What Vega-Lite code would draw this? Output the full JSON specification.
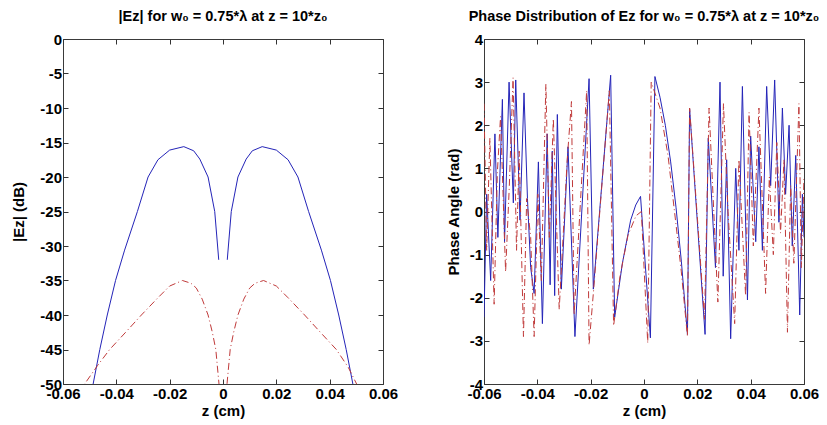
{
  "$schema": "https://vega.github.io/schema/vega-lite/v6.json",
  "background": "white",
  "padding": {"left": 11, "top": 8, "right": 2, "bottom": 2},
  "spacing": 47,
  "datasets": {
    "mag": [
      {"s":"a","g":1,"z":-0.0505,"v":-53},{"s":"a","g":1,"z":-0.0487,"v":-50},{"s":"a","g":1,"z":-0.0462,"v":-45},{"s":"a","g":1,"z":-0.0434,"v":-40},{"s":"a","g":1,"z":-0.0403,"v":-35},{"s":"a","g":1,"z":-0.0369,"v":-30.6},{"s":"a","g":1,"z":-0.0321,"v":-25},{"s":"a","g":1,"z":-0.0281,"v":-20},{"s":"a","g":1,"z":-0.0244,"v":-17.5},{"s":"a","g":1,"z":-0.02,"v":-16.1},{"s":"a","g":1,"z":-0.0147,"v":-15.6},{"s":"a","g":1,"z":-0.011,"v":-16.2},{"s":"a","g":1,"z":-0.0087,"v":-17.4},{"s":"a","g":1,"z":-0.0056,"v":-20},{"s":"a","g":1,"z":-0.0031,"v":-25},{"s":"a","g":1,"z":-0.0016,"v":-32},
      {"s":"a","g":2,"z":0.0016,"v":-32},{"s":"a","g":2,"z":0.0031,"v":-25},{"s":"a","g":2,"z":0.0056,"v":-20},{"s":"a","g":2,"z":0.0087,"v":-17.4},{"s":"a","g":2,"z":0.011,"v":-16.2},{"s":"a","g":2,"z":0.0147,"v":-15.6},{"s":"a","g":2,"z":0.02,"v":-16.1},{"s":"a","g":2,"z":0.0244,"v":-17.5},{"s":"a","g":2,"z":0.0281,"v":-20},{"s":"a","g":2,"z":0.0321,"v":-25},{"s":"a","g":2,"z":0.0369,"v":-30.6},{"s":"a","g":2,"z":0.0403,"v":-35},{"s":"a","g":2,"z":0.0434,"v":-40},{"s":"a","g":2,"z":0.0462,"v":-45},{"s":"a","g":2,"z":0.0487,"v":-50},{"s":"a","g":2,"z":0.0505,"v":-53},
      {"s":"b","g":3,"z":-0.053,"v":-51.5},{"s":"b","g":3,"z":-0.0519,"v":-50},{"s":"b","g":3,"z":-0.047,"v":-47.3},{"s":"b","g":3,"z":-0.0425,"v":-45},{"s":"b","g":3,"z":-0.0365,"v":-42.5},{"s":"b","g":3,"z":-0.0306,"v":-40},{"s":"b","g":3,"z":-0.0244,"v":-37.5},{"s":"b","g":3,"z":-0.02,"v":-35.8},{"s":"b","g":3,"z":-0.0152,"v":-35},{"s":"b","g":3,"z":-0.012,"v":-35.4},{"s":"b","g":3,"z":-0.01,"v":-36.1},{"s":"b","g":3,"z":-0.0078,"v":-37.7},{"s":"b","g":3,"z":-0.0056,"v":-40},{"s":"b","g":3,"z":-0.004,"v":-42.5},{"s":"b","g":3,"z":-0.0027,"v":-45},{"s":"b","g":3,"z":-0.0015,"v":-50},{"s":"b","g":3,"z":-0.0012,"v":-52},
      {"s":"b","g":4,"z":0.0012,"v":-52},{"s":"b","g":4,"z":0.0015,"v":-50},{"s":"b","g":4,"z":0.0027,"v":-45},{"s":"b","g":4,"z":0.004,"v":-42.5},{"s":"b","g":4,"z":0.0056,"v":-40},{"s":"b","g":4,"z":0.0078,"v":-37.7},{"s":"b","g":4,"z":0.01,"v":-36.1},{"s":"b","g":4,"z":0.012,"v":-35.4},{"s":"b","g":4,"z":0.0152,"v":-35},{"s":"b","g":4,"z":0.02,"v":-35.8},{"s":"b","g":4,"z":0.0244,"v":-37.5},{"s":"b","g":4,"z":0.0306,"v":-40},{"s":"b","g":4,"z":0.0365,"v":-42.5},{"s":"b","g":4,"z":0.0425,"v":-45},{"s":"b","g":4,"z":0.047,"v":-47.6},{"s":"b","g":4,"z":0.0505,"v":-50.3},{"s":"b","g":4,"z":0.052,"v":-51.5}
    ],
    "phase": [
      {"s":"a","z":-0.06,"v":-2.45},{"s":"a","z":-0.059,"v":0.4},{"s":"a","z":-0.0575,"v":-1.6},{"s":"a","z":-0.0559,"v":1.8},{"s":"a","z":-0.0548,"v":-0.6},{"s":"a","z":-0.0531,"v":2.6},{"s":"a","z":-0.0523,"v":-0.7},{"s":"a","z":-0.0506,"v":3.0},{"s":"a","z":-0.049,"v":0.2},{"s":"a","z":-0.0481,"v":3.05},{"s":"a","z":-0.0465,"v":-0.2},{"s":"a","z":-0.045,"v":2.75},{"s":"a","z":-0.0437,"v":0.3},{"s":"a","z":-0.0425,"v":-1.3},{"s":"a","z":-0.0412,"v":-1.9},{"s":"a","z":-0.0396,"v":1.15},{"s":"a","z":-0.0381,"v":-2.6},{"s":"a","z":-0.0363,"v":1.8},{"s":"a","z":-0.0352,"v":-1.7},{"s":"a","z":-0.0344,"v":1.4},{"s":"a","z":-0.0335,"v":-1.95},{"s":"a","z":-0.0325,"v":2.25},{"s":"a","z":-0.031,"v":-1.8},{"s":"a","z":-0.0285,"v":1.5},{"s":"a","z":-0.0259,"v":-2.9},{"s":"a","z":-0.0206,"v":3.08},{"s":"a","z":-0.019,"v":-1.8},{"s":"a","z":-0.0125,"v":3.16},{"s":"a","z":-0.011,"v":-2.45},{"s":"a","z":-0.0081,"v":-1.2},{"s":"a","z":-0.005,"v":-0.2},{"s":"a","z":-0.0031,"v":0.15},{"s":"a","z":-0.0013,"v":0.35},{"s":"a","z":0.0024,"v":-2.93},{"s":"a","z":0.0041,"v":3.13},{"s":"a","z":0.006,"v":2.65},{"s":"a","z":0.008,"v":2.0},{"s":"a","z":0.01,"v":1.15},{"s":"a","z":0.012,"v":0.1},{"s":"a","z":0.014,"v":-1.15},{"s":"a","z":0.0163,"v":-2.85},{"s":"a","z":0.0171,"v":2.38},{"s":"a","z":0.0229,"v":-2.85},{"s":"a","z":0.0241,"v":1.7},{"s":"a","z":0.0268,"v":-1.3},{"s":"a","z":0.0285,"v":3.0},{"s":"a","z":0.0297,"v":-1.5},{"s":"a","z":0.031,"v":1.2},{"s":"a","z":0.0325,"v":-2.95},{"s":"a","z":0.0344,"v":1.0},{"s":"a","z":0.0356,"v":-0.9},{"s":"a","z":0.0369,"v":2.9},{"s":"a","z":0.0388,"v":-2.05},{"s":"a","z":0.04,"v":1.75},{"s":"a","z":0.0419,"v":-0.7},{"s":"a","z":0.0431,"v":1.5},{"s":"a","z":0.0444,"v":-0.9},{"s":"a","z":0.046,"v":2.9},{"s":"a","z":0.0475,"v":0.6},{"s":"a","z":0.049,"v":3.05},{"s":"a","z":0.0506,"v":-0.25},{"s":"a","z":0.0519,"v":2.4},{"s":"a","z":0.0531,"v":0.4},{"s":"a","z":0.0544,"v":2.0},{"s":"a","z":0.0556,"v":-0.8},{"s":"a","z":0.0569,"v":1.3},{"s":"a","z":0.0584,"v":-2.4},{"s":"a","z":0.0594,"v":0.4},{"s":"a","z":0.06,"v":-0.6},
      {"s":"b","z":-0.06,"v":2.5},{"s":"b","z":-0.059,"v":-0.9},{"s":"b","z":-0.0578,"v":1.7},{"s":"b","z":-0.0562,"v":-2.15},{"s":"b","z":-0.055,"v":0.9},{"s":"b","z":-0.0538,"v":2.2},{"s":"b","z":-0.0519,"v":-1.4},{"s":"b","z":-0.0505,"v":0.6},{"s":"b","z":-0.0491,"v":3.1},{"s":"b","z":-0.0478,"v":-0.9},{"s":"b","z":-0.0468,"v":1.4},{"s":"b","z":-0.0452,"v":-2.9},{"s":"b","z":-0.044,"v":0.3},{"s":"b","z":-0.0425,"v":-0.6},{"s":"b","z":-0.0412,"v":-2.9},{"s":"b","z":-0.0398,"v":0.4},{"s":"b","z":-0.0385,"v":-1.6},{"s":"b","z":-0.0368,"v":2.95},{"s":"b","z":-0.0355,"v":-0.6},{"s":"b","z":-0.034,"v":2.15},{"s":"b","z":-0.0318,"v":-2.27},{"s":"b","z":-0.03,"v":-0.2},{"s":"b","z":-0.0288,"v":1.2},{"s":"b","z":-0.0272,"v":2.55},{"s":"b","z":-0.0262,"v":-2.4},{"s":"b","z":-0.0215,"v":2.8},{"s":"b","z":-0.0206,"v":-3.1},{"s":"b","z":-0.019,"v":-1.9},{"s":"b","z":-0.013,"v":2.8},{"s":"b","z":-0.0114,"v":-2.65},{"s":"b","z":-0.009,"v":-1.5},{"s":"b","z":-0.006,"v":-0.55},{"s":"b","z":-0.003,"v":-0.1},{"s":"b","z":-0.001,"v":0.0},{"s":"b","z":0.0014,"v":-3.05},{"s":"b","z":0.0027,"v":3.0},{"s":"b","z":0.006,"v":2.4},{"s":"b","z":0.009,"v":1.3},{"s":"b","z":0.012,"v":-0.3},{"s":"b","z":0.014,"v":-1.4},{"s":"b","z":0.0163,"v":-2.9},{"s":"b","z":0.0171,"v":2.4},{"s":"b","z":0.0227,"v":-2.5},{"s":"b","z":0.0244,"v":2.4},{"s":"b","z":0.0277,"v":-2.1},{"s":"b","z":0.0298,"v":2.5},{"s":"b","z":0.0315,"v":0.0},{"s":"b","z":0.034,"v":-2.6},{"s":"b","z":0.0356,"v":1.2},{"s":"b","z":0.0381,"v":-1.95},{"s":"b","z":0.0394,"v":2.3},{"s":"b","z":0.041,"v":-0.8},{"s":"b","z":0.0431,"v":2.4},{"s":"b","z":0.0456,"v":-1.9},{"s":"b","z":0.047,"v":0.8},{"s":"b","z":0.0485,"v":-1.0},{"s":"b","z":0.0498,"v":1.6},{"s":"b","z":0.0512,"v":-0.5},{"s":"b","z":0.0525,"v":1.2},{"s":"b","z":0.0538,"v":-2.8},{"s":"b","z":0.055,"v":0.6},{"s":"b","z":0.0562,"v":-1.2},{"s":"b","z":0.0581,"v":2.5},{"s":"b","z":0.059,"v":-1.3},{"s":"b","z":0.06,"v":0.8}
    ]
  },
  "hconcat": [
    {
      "width": 320,
      "height": 345,
      "title": {"text": "|Ez| for w\u2080 = 0.75*\u03bb at z = 10*z\u2080"},
      "data": {"name": "mag"},
      "layer": [
        {
          "transform": [{"filter": "datum.s == 'a'"}],
          "mark": {"type": "line", "clip": true, "color": "#2424b8", "strokeWidth": 1},
          "encoding": {
            "x": {"field": "z", "type": "quantitative", "scale": {"domain": [-0.06, 0.06], "nice": false, "zero": false},
                  "axis": {"orient": "bottom", "values": [-0.06,-0.04,-0.02,0,0.02,0.04,0.06], "title": "z (cm)", "labelFlush": false, "labelOverlap": false, "labelPadding": 7, "titlePadding": 2, "labelExpr": "replace(format(datum.value,'~g'),'\u2212','-')"}},
            "y": {"field": "v", "type": "quantitative", "scale": {"domain": [-50, 0], "nice": false, "zero": false},
                  "axis": {"orient": "left", "values": [0,-5,-10,-15,-20,-25,-30,-35,-40,-45,-50], "title": "|Ez| (dB)", "labelOverlap": false, "labelPadding": 6.5, "titlePadding": 13, "labelExpr": "replace(format(datum.value,'~g'),'\u2212','-')"}},
            "detail": {"field": "g"}
          }
        },
        {
          "transform": [{"filter": "datum.s == 'b'"}],
          "mark": {"type": "line", "clip": true, "color": "#c03a3a", "strokeWidth": 1, "strokeDash": [7, 3, 1, 3]},
          "encoding": {
            "x": {"field": "z", "type": "quantitative", "axis": {"orient": "top", "values": [-0.06,-0.04,-0.02,0,0.02,0.04,0.06], "labels": false, "title": null}},
            "y": {"field": "v", "type": "quantitative", "axis": {"orient": "right", "values": [0,-5,-10,-15,-20,-25,-30,-35,-40,-45,-50], "labels": false, "title": null}},
            "detail": {"field": "g"}
          }
        }
      ],
      "resolve": {"axis": {"x": "independent", "y": "independent"}}
    },
    {
      "width": 320,
      "height": 345,
      "title": {"text": "Phase Distribution of Ez for w\u2080 = 0.75*\u03bb at z = 10*z\u2080"},
      "data": {"name": "phase"},
      "layer": [
        {
          "transform": [{"filter": "datum.s == 'a'"}],
          "mark": {"type": "line", "clip": true, "color": "#2424b8", "strokeWidth": 1},
          "encoding": {
            "x": {"field": "z", "type": "quantitative", "scale": {"domain": [-0.06, 0.06], "nice": false, "zero": false},
                  "axis": {"orient": "bottom", "values": [-0.06,-0.04,-0.02,0,0.02,0.04,0.06], "title": "z (cm)", "labelFlush": false, "labelOverlap": false, "labelPadding": 7, "titlePadding": 2, "labelExpr": "replace(format(datum.value,'~g'),'\u2212','-')"}},
            "y": {"field": "v", "type": "quantitative", "scale": {"domain": [-4, 4], "nice": false, "zero": false},
                  "axis": {"orient": "left", "values": [4,3,2,1,0,-1,-2,-3,-4], "title": "Phase Angle (rad)", "labelOverlap": false, "labelPadding": 6.5, "titlePadding": 7.5, "labelExpr": "replace(format(datum.value,'~g'),'\u2212','-')"}}
          }
        },
        {
          "transform": [{"filter": "datum.s == 'b'"}],
          "mark": {"type": "line", "clip": true, "color": "#c03a3a", "strokeWidth": 1, "strokeDash": [7, 3, 1, 3]},
          "encoding": {
            "x": {"field": "z", "type": "quantitative", "axis": {"orient": "top", "values": [-0.06,-0.04,-0.02,0,0.02,0.04,0.06], "labels": false, "title": null}},
            "y": {"field": "v", "type": "quantitative", "axis": {"orient": "right", "values": [4,3,2,1,0,-1,-2,-3,-4], "labels": false, "title": null}}
          }
        }
      ],
      "resolve": {"axis": {"x": "independent", "y": "independent"}}
    }
  ],
  "config": {
    "font": "Liberation Sans",
    "view": {"stroke": "#3a3a3a", "strokeWidth": 1},
    "axis": {"grid": false, "domain": false, "tickColor": "#333333", "tickSize": -5, "labelPadding": 3,
             "labelFont": "Liberation Sans", "labelFontWeight": "bold", "labelFontSize": 15, "labelColor": "#000000",
             "titleFont": "Liberation Sans", "titleFontWeight": "bold", "titleFontSize": 15, "titleColor": "#000000", "titlePadding": 3},
    "title": {"font": "Liberation Sans", "fontWeight": "bold", "fontSize": 14.5, "color": "#000000", "offset": 8}
  }
}
